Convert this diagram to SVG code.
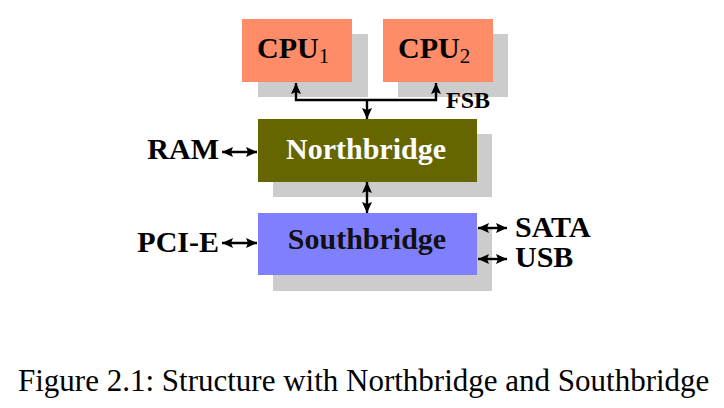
<svg xmlns="http://www.w3.org/2000/svg" width="724" height="408" viewBox="0 0 724 408">
<style>
.shadow{fill:#cccccc}
.lbl{font-family:"Liberation Serif","Times New Roman",serif;font-weight:bold;font-size:30px;fill:#000}
.sub{font-weight:normal;font-size:21px}
.conn{fill:none;stroke:#000;stroke-width:2.4}
.cap{font-family:"Liberation Serif","Times New Roman",serif;font-size:31px;fill:#000}
</style>
<defs>
<marker id="ah" markerUnits="userSpaceOnUse" markerWidth="12" markerHeight="11" refX="11" refY="5" orient="auto-start-reverse">
<path d="M0,0 L11,5 L0,10 L2,5 z" fill="#000"/>
</marker>
</defs>
<rect width="724" height="408" fill="#fff"/>
<g id="cpu1">
<rect class="shadow" x="258" y="34" width="110" height="63"/>
<rect x="242" y="19" width="110" height="63" fill="#ff8c69"/>
<text class="lbl" x="257" y="58">CPU<tspan class="sub" dy="5">1</tspan></text>
</g>
<g id="cpu2">
<rect class="shadow" x="398" y="34" width="110" height="63"/>
<rect x="383" y="19" width="110" height="63" fill="#ff8c69"/>
<text class="lbl" x="398" y="58">CPU<tspan class="sub" dy="5">2</tspan></text>
</g>
<g id="northbridge">
<rect class="shadow" x="273" y="134" width="219" height="63"/>
<rect x="258" y="119" width="219" height="63" fill="#666600"/>
<text class="lbl" x="366" y="159" text-anchor="middle" style="fill:#fff">Northbridge</text>
</g>
<g id="southbridge">
<rect class="shadow" x="273" y="228" width="219" height="63"/>
<rect x="258" y="213" width="219" height="62" fill="#8080ff"/>
<text class="lbl" x="367" y="249" text-anchor="middle" style="fill:#111">Southbridge</text>
</g>
<g id="ram"><text class="lbl" x="219" y="159" text-anchor="end">RAM</text></g>
<g id="pcie"><text class="lbl" x="219" y="252" text-anchor="end">PCI-E</text></g>
<g id="sata"><text class="lbl" x="515" y="237">SATA</text></g>
<g id="usb"><text class="lbl" x="515" y="267">USB</text></g>
<g id="fsb"><text class="lbl" x="446" y="108" style="font-size:24px">FSB</text></g>
<g id="connectors">
<path class="conn" d="M296,83 V100 H436 V83" marker-start="url(#ah)" marker-end="url(#ah)"/>
<path class="conn" d="M367,100 V119" marker-end="url(#ah)"/>
<path class="conn" d="M222,152 H257" marker-start="url(#ah)" marker-end="url(#ah)"/>
<path class="conn" d="M367,182 V213" marker-start="url(#ah)" marker-end="url(#ah)"/>
<path class="conn" d="M222,243 H257" marker-start="url(#ah)" marker-end="url(#ah)"/>
<path class="conn" d="M478,228 H507" marker-start="url(#ah)" marker-end="url(#ah)"/>
<path class="conn" d="M478,259 H507" marker-start="url(#ah)" marker-end="url(#ah)"/>
</g>
<text class="cap" x="18" y="391">Figure 2.1: Structure with Northbridge and Southbridge</text>
</svg>
